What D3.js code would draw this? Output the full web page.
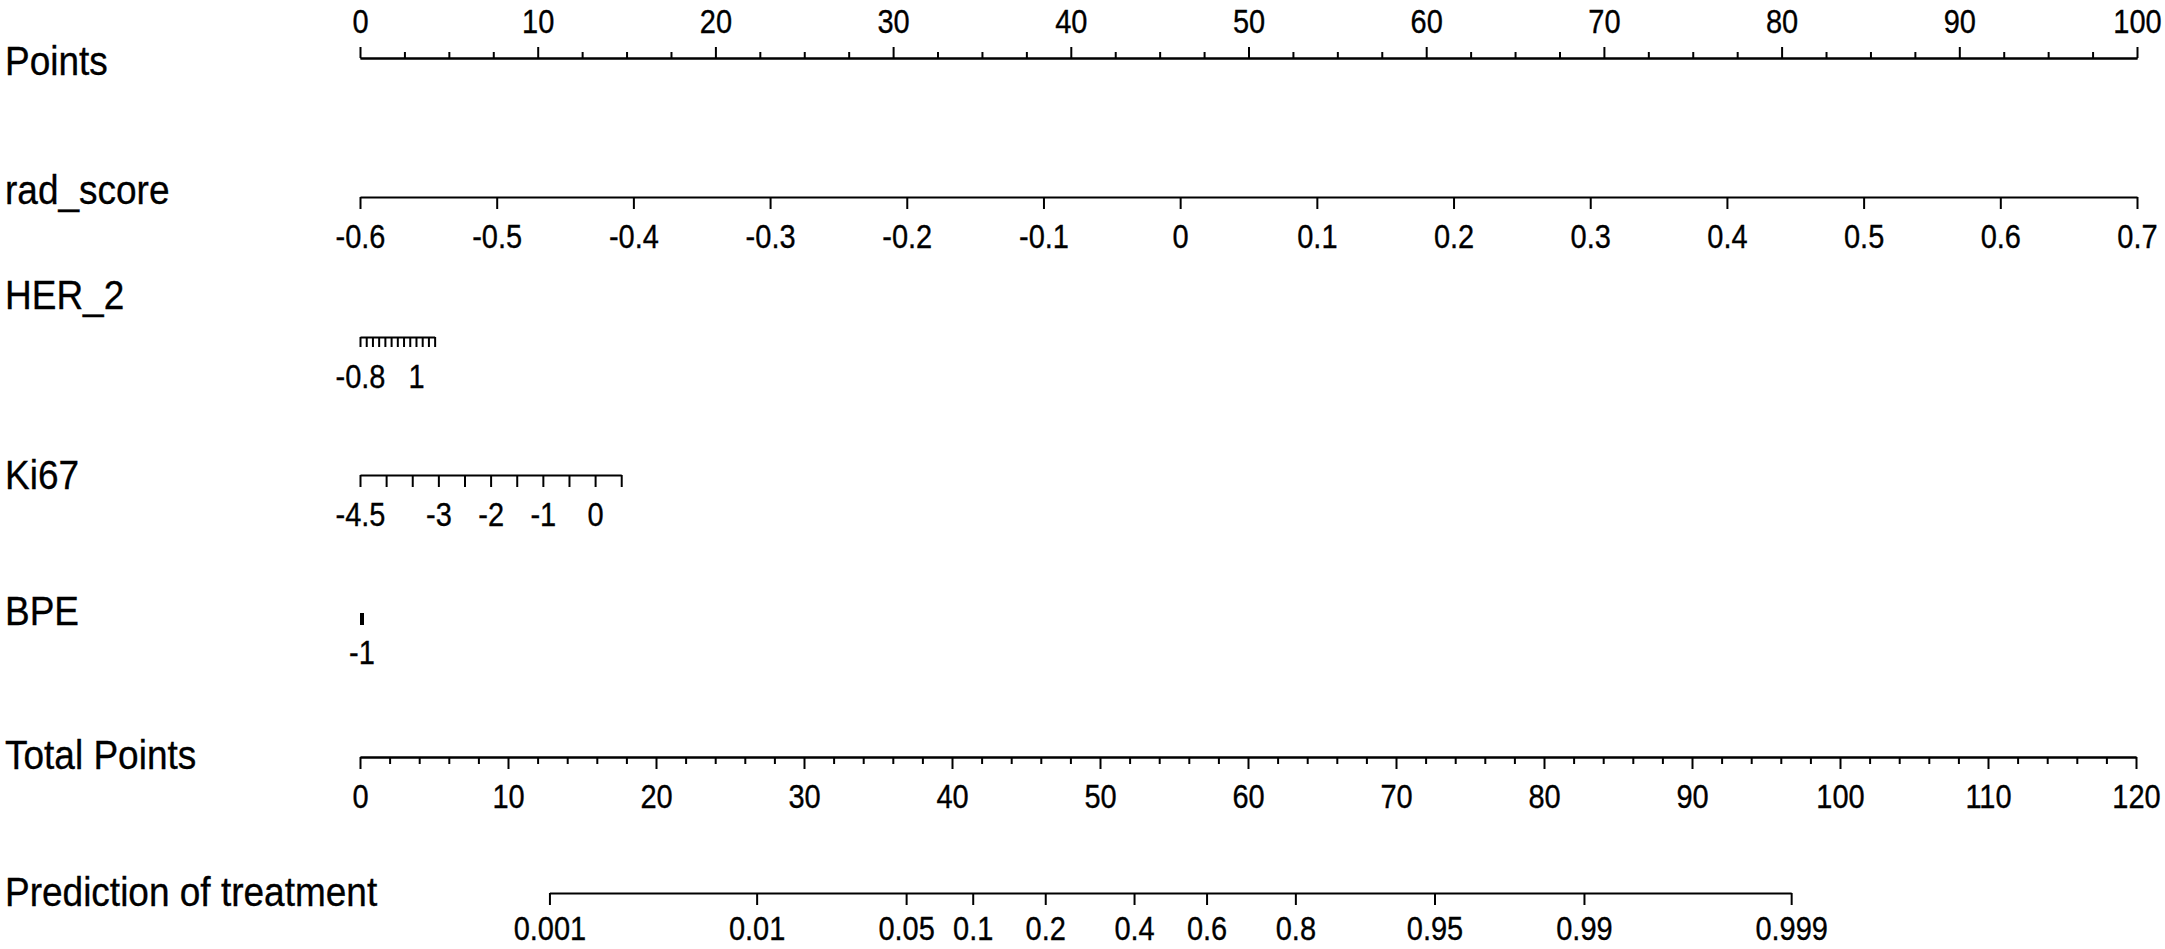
<!DOCTYPE html>
<html><head><meta charset="utf-8">
<script src="https://cdn.jsdelivr.net/npm/d3@7"></script>
<style>body{margin:0;background:#fff}svg{display:block}</style>
</head><body><svg id="c" width="2165" height="949"></svg>
<script>
// ---- data ----
const varLabels = ["Points","rad_score","HER_2","Ki67","BPE","Total Points","Prediction of treatment"];
const pointsMajor = [0,10,20,30,40,50,60,70,80,90,100];
const pointsMinor = [2.5,5,7.5,12.5,15,17.5,22.5,25,27.5,32.5,35,37.5,42.5,45,47.5,52.5,55,57.5,62.5,65,67.5,72.5,75,77.5,82.5,85,87.5,92.5,95,97.5];
const radTicks = [-0.6,-0.5,-0.4,-0.3,-0.2,-0.1,0,0.1,0.2,0.3,0.4,0.5,0.6,0.7];
const radPoints = [0,100];            // points at -0.6 and 0.7
const her2Ticks = [-0.8,-0.6,-0.4,-0.2,0,0.2,0.4,0.6,0.8,1,1.2,1.4,1.6];
const her2Labels = [-0.8,1];
const her2Points = [0,4.2];           // points at -0.8 and 1.6
const ki67Ticks = [-4.5,-4,-3.5,-3,-2.5,-2,-1.5,-1,-0.5,0,0.5];
const ki67Labels = [-4.5,-3,-2,-1,0];
const ki67Points = [0,14.7];          // points at -4.5 and 0.5
const bpeTicks = [-1];
const totalMajor = [0,10,20,30,40,50,60,70,80,90,100,110,120];
const totalMinor = [2,4,6,8,12,14,16,18,22,24,26,28,32,34,36,38,42,44,46,48,52,54,56,58,62,64,66,68,72,74,76,78,82,84,86,88,92,94,96,98,102,104,106,108,112,114,116,118];
const predLabels = ["0.001","0.01","0.05","0.1","0.2","0.4","0.6","0.8","0.95","0.99","0.999"];
const predTotalPts = [12.8,26.8,36.9,41.4,46.3,52.3,57.2,63.2,72.6,82.7,96.7];

// ---- layout ----
const svg = d3.select("#c");
const FONT = "'Liberation Sans', Arial, sans-serif";
const xPts = d3.scaleLinear([0,100],[360,2137]);
const xTot = d3.scaleLinear([0,120],[360,2136]);
const labelY = [75,204,309,489,625,769,906];
const axisY = {points:58, rad:197, her2:337, ki67:475, bpe:613, total:757, pred:893};
const LABOFF = 51;
const VS = 1.16;   // vertical stretch of glyphs as in the reference

svg.append("g").selectAll("text").data(varLabels).join("text")
  .attr("transform",(d,i)=>`translate(5,${labelY[i]}) scale(1,1.08)`)
  .attr("font-family",FONT).attr("font-size",37).attr("fill","#000")
  .attr("stroke","#000").attr("stroke-width",0.3)
  .text(d=>d);

function style(g, sw){
  g.select(".domain").attr("stroke","#000").attr("stroke-width",sw||2);
  g.selectAll(".tick line").attr("stroke","#000").attr("stroke-width",sw||2);
  g.selectAll(".tick text").attr("font-family",FONT).attr("font-size",29).attr("fill","#000")
    .attr("stroke","#000").attr("stroke-width",0.3);
}
function placeText(g, off){
  g.selectAll(".tick text").attr("y",0).attr("dy",0)
    .attr("transform",`translate(0,${off}) scale(1,${VS})`);
}
function fmt(v){ return v===0 ? "0" : String(v); }

// Points (top)
let g = svg.append("g").attr("transform",`translate(0,${axisY.points})`)
  .call(d3.axisTop(xPts).tickValues(pointsMinor).tickSize(6).tickSizeOuter(0).tickFormat(""));
style(g);
g = svg.append("g").attr("transform",`translate(0,${axisY.points})`)
  .call(d3.axisTop(xPts).tickValues(pointsMajor).tickSize(11).tickSizeOuter(0).tickFormat(fmt));
style(g); placeText(g,-25);

function bottomAxis(scale, y, ticks, labels, size, sw){
  const gg = svg.append("g").attr("transform",`translate(0,${y})`)
    .call(d3.axisBottom(scale).tickValues(ticks).tickSize(size).tickSizeOuter(0)
      .tickFormat(d => labels===null ? "" : (labels.some(l=>Math.abs(l-d)<1e-9) ? fmt(d) : "")));
  style(gg, sw);
  gg.selectAll(".tick text").attr("stroke-width",0.3);
  placeText(gg, LABOFF);
  return gg;
}

// rad_score
const xRad = d3.scaleLinear([radTicks[0], radTicks[radTicks.length-1]], radPoints.map(xPts));
bottomAxis(xRad, axisY.rad, radTicks, radTicks, 12);

// HER_2
const xHer = d3.scaleLinear([her2Ticks[0], her2Ticks[her2Ticks.length-1]], her2Points.map(xPts));
bottomAxis(xHer, axisY.her2, her2Ticks, her2Labels, 10);

// Ki67
const xKi = d3.scaleLinear([ki67Ticks[0], ki67Ticks[ki67Ticks.length-1]], ki67Points.map(xPts));
bottomAxis(xKi, axisY.ki67, ki67Ticks, ki67Labels, 12);

// BPE (single thick mark)
const xBpe = d3.scaleLinear([-1,0],[xPts(0)+1.5, xPts(10)]);
g = bottomAxis(xBpe, axisY.bpe, bpeTicks, bpeTicks, 12, 4);
g.select(".domain").remove();

// Total Points
bottomAxis(xTot, axisY.total, totalMinor, null, 7);
bottomAxis(xTot, axisY.total, totalMajor, totalMajor, 12);

// Prediction
const xPred = d3.scaleLinear([predTotalPts[0], predTotalPts[predTotalPts.length-1]],
  [xTot(predTotalPts[0]), xTot(predTotalPts[predTotalPts.length-1])]);
g = svg.append("g").attr("transform",`translate(0,${axisY.pred})`)
  .call(d3.axisBottom(xPred).tickValues(predTotalPts).tickSize(12).tickSizeOuter(0)
    .tickFormat((d,i)=>predLabels[i]));
style(g); placeText(g, 47);
</script></body></html>
